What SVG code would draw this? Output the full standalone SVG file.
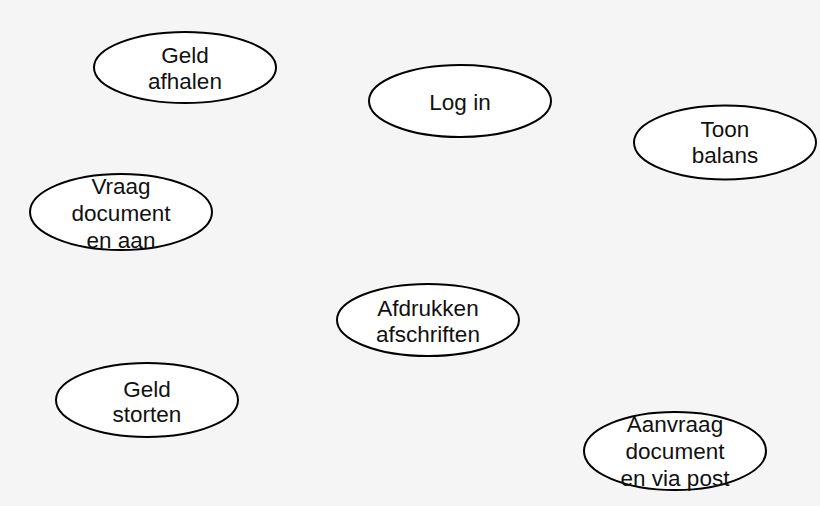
<svg xmlns="http://www.w3.org/2000/svg" width="820" height="506" viewBox="0 0 820 506">
<style>
.n ellipse{fill:#fff;stroke:#000;stroke-width:2}
.n text{font-family:"Liberation Sans",Arial,sans-serif;font-size:22.5px;fill:#111;text-anchor:middle}
</style>
<rect width="820" height="506" fill="#f5f5f5"/>
<g id="connectors"/>
<g id="geld-afhalen" class="n"><ellipse cx="185" cy="67.5" rx="91" ry="35.5"/><text x="185" y="63">Geld</text><text x="185" y="89">afhalen</text></g>
<g id="log-in" class="n"><ellipse cx="460" cy="101" rx="91" ry="36"/><text x="460" y="110">Log in</text></g>
<g id="toon-balans" class="n"><ellipse cx="725" cy="142.5" rx="91" ry="37"/><text x="725" y="137">Toon</text><text x="725" y="163">balans</text></g>
<g id="vraag-document" class="n"><ellipse cx="121" cy="212" rx="91" ry="38"/><text x="121" y="194">Vraag</text><text x="121" y="221">document</text><text x="121" y="248">en aan</text></g>
<g id="afdrukken" class="n"><ellipse cx="428" cy="320" rx="91" ry="36"/><text x="428" y="316">Afdrukken</text><text x="428" y="342">afschriften</text></g>
<g id="geld-storten" class="n"><ellipse cx="147" cy="400" rx="91" ry="37"/><text x="147" y="397">Geld</text><text x="147" y="422">storten</text></g>
<g id="aanvraag-document" class="n"><ellipse cx="675" cy="451" rx="91" ry="39"/><text x="675" y="432">Aanvraag</text><text x="675" y="459">document</text><text x="675" y="486">en via post</text></g>
</svg>
